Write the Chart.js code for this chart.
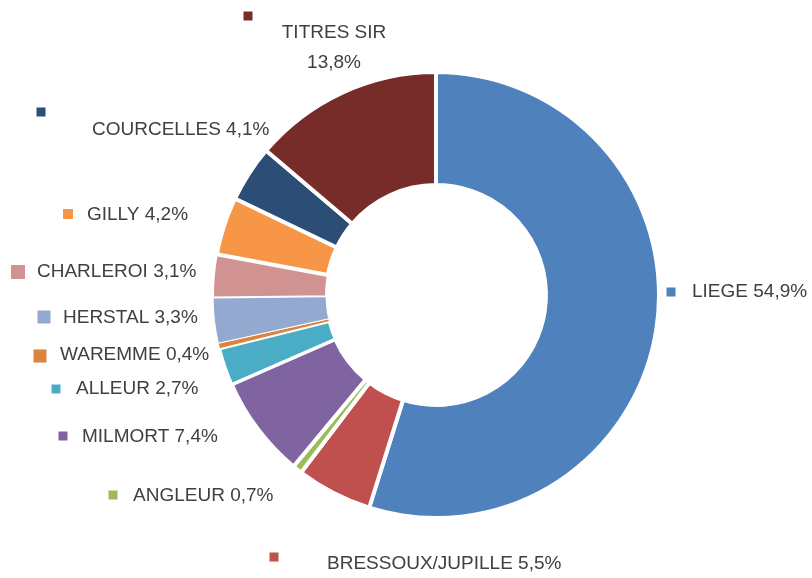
<!DOCTYPE html>
<html>
<head>
<meta charset="utf-8">
<script src="https://cdn.jsdelivr.net/npm/chart.js@4"></script>
<style>
	body { margin: 0; background: #fff; }
	#chart { display: block; }
</style>
</head>
<body>
<canvas id="chart" width="812" height="578"></canvas>
<script>
// données
const sites = ['LIEGE', 'BRESSOUX/JUPILLE', 'ANGLEUR', 'MILMORT', 'ALLEUR', 'WAREMME', 'HERSTAL', 'CHARLEROI', 'GILLY', 'COURCELLES', 'TITRES SIR'];
const shares = [54.9, 5.5, 0.7, 7.4, 2.7, 0.4, 3.3, 3.1, 4.2, 4.1, 13.8];

const colors = ['#4F81BD', '#C0504D', '#9BBB59', '#8064A2', '#4BACC6', '#DB843D', '#93A9CF', '#D19391', '#F79646', '#2C4D75', '#772C2A'];
const borders = [4, 4, 4, 4, 3, 1, 1, 2, 4, 4, 4];

// placement des étiquettes, relatif au centre de l'anneau: [marqueur x, y, taille, texte x, y]
const labelLayout = [
	[235, -3, 9, 256, -3],
	[-162, 262, 9, -109, 269],
	[-323, 200, 9, -303, 201],
	[-373, 141, 9, -354, 142],
	[-380, 94, 9, -360, 94],
	[-396, 61, 13, -376, 60],
	[-392, 22, 13, -373, 23],
	[-418, -23, 14, -399, -23],
	[-368, -81, 10, -349, -80],
	[-395, -183, 9, -344, -165],
	[-188, -279, 9, -102, -262]
];

const fmt = v => v.toFixed(1).replace('.', ',') + '%';

const labelPlugin = {
	id: 'labelPlugin',
	afterDatasetsDraw(chart) {
		const ctx = chart.ctx;
		const arc = chart.getDatasetMeta(0).data[0];
		const cx = arc.x, cy = arc.y;
		ctx.save();
		ctx.font = '19px "Liberation Sans", Arial, sans-serif';
		ctx.fillStyle = '#404040';
		ctx.textBaseline = 'middle';
		sites.forEach((name, i) => {
			const [mx, my, ms, tx, ty] = labelLayout[i];
			ctx.fillStyle = colors[i];
			ctx.fillRect(cx + mx - ms / 2, cy + my - ms / 2, ms, ms);
			ctx.fillStyle = '#404040';
			if (name === 'TITRES SIR') {
				ctx.textAlign = 'center';
				ctx.fillText(name, cx + tx, cy + ty);
				ctx.fillText(fmt(shares[i]), cx + tx, cy + ty + 30);
			} else {
				ctx.textAlign = 'left';
				ctx.fillText(`${name} ${fmt(shares[i])}`, cx + tx, cy + ty);
			}
		});
		ctx.restore();
	}
};

new Chart(document.getElementById('chart'), {
	type: 'doughnut',
	data: {
		labels: sites,
		datasets: [{
			data: shares,
			backgroundColor: colors,
			borderColor: '#ffffff',
			borderWidth: borders,
			hoverOffset: 0
		}]
	},
	options: {
		responsive: false,
		animation: false,
		cutout: '49.3%',
		layout: {
			padding: { left: 211, right: 151, top: 70, bottom: 58 }
		},
		plugins: {
			legend: { display: false },
			tooltip: { enabled: false }
		}
	},
	plugins: [labelPlugin]
});
</script>
</body>
</html>
